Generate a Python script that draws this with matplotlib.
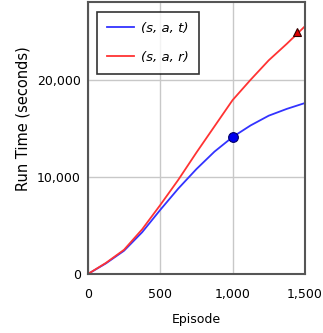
import matplotlib
matplotlib.use("Agg")
import matplotlib.pyplot as plt
from matplotlib.ticker import FuncFormatter

# episodes and run times
episodes = [0, 125, 250, 375, 500, 625, 750, 875, 1000, 1125, 1250, 1375, 1500]
time_sat = [0, 1100, 2400, 4300, 6600, 8800, 10800, 12600, 14100, 15300, 16300, 17000, 17600]
time_sar = [0, 1150, 2500, 4600, 7100, 9700, 12500, 15200, 17900, 20000, 22000, 23700, 25500]

end_marker_x = [1445]
end_marker_y = [24950]
mid_marker_x = [1000]
mid_marker_y = [14100]

plt.rcParams['font.family'] = ['DejaVu Sans']

fig = plt.figure(figsize=(3.23, 3.33), dpi=100)
ax = fig.add_axes([0.272, 0.177, 0.672, 0.817])

ax.plot(episodes, time_sat, color='#3333ff', lw=1.3, label='(s, a, t)')
ax.plot(episodes, time_sar, color='#ff3333', lw=1.3, label='(s, a, r)')
ax.plot(mid_marker_x, mid_marker_y, 'o', color='#0000ee', ms=7, mec='#000066', mew=0.8)
ax.plot(end_marker_x, end_marker_y, '^', color='#dd0000', ms=6, mec='#330000', mew=0.8)

ax.set_xlim(0, 1500)
ax.set_ylim(0, 28000)
ax.set_xticks([0, 500, 1000, 1500])
ax.set_yticks([0, 10000, 20000])
fmt = FuncFormatter(lambda v, p: f"{int(v):,}")
ax.xaxis.set_major_formatter(fmt)
ax.yaxis.set_major_formatter(fmt)
ax.tick_params(length=0, labelsize=9)
ax.tick_params(axis='x', pad=10)
ax.tick_params(axis='y', pad=5)
ax.grid(True, color='#c8c8c8', lw=1)
for s in ax.spines.values():
    s.set_color('#555555')
    s.set_linewidth(1.5)

ax.set_xlabel('Episode', fontsize=9, labelpad=9)
ax.set_ylabel('Run Time (seconds)', fontsize=10.5)
ax.yaxis.set_label_coords(-0.265, 0.57)

leg = ax.legend(loc='upper left', bbox_to_anchor=(0.041, 0.963),
                frameon=True, fancybox=False, handlelength=2.1, handletextpad=0.5,
                borderpad=0.75, labelspacing=1.2, borderaxespad=0,
                prop={'style': 'italic', 'size': 9.5})
leg.get_frame().set_edgecolor('black')
leg.get_frame().set_linewidth(1.2)

fig.savefig('out.png', dpi=100)
